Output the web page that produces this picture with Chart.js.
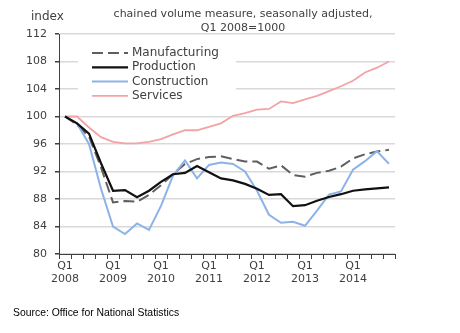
<!DOCTYPE html>
<html>
<head>
<meta charset="utf-8">
<script src="https://cdn.jsdelivr.net/npm/chart.js@4"></script>
<style>
  html, body { margin: 0; padding: 0; background: #fff; }
  #wrap { width: 460px; height: 333px; }
</style>
</head>
<body>
<div id="wrap"><canvas id="chart" width="460" height="333"></canvas></div>
<script>
const quarters = [
  '2008 Q1', '2008 Q2', '2008 Q3', '2008 Q4',
  '2009 Q1', '2009 Q2', '2009 Q3', '2009 Q4',
  '2010 Q1', '2010 Q2', '2010 Q3', '2010 Q4',
  '2011 Q1', '2011 Q2', '2011 Q3', '2011 Q4',
  '2012 Q1', '2012 Q2', '2012 Q3', '2012 Q4',
  '2013 Q1', '2013 Q2', '2013 Q3', '2013 Q4',
  '2014 Q1', '2014 Q2', '2014 Q3', '2014 Q4'
];

const manufacturing = [100, 98.8, 97.1, 92.6, 87.5, 87.7, 87.6, 88.6, 90.0, 91.6, 93.1, 93.8, 94.1, 94.2,
  93.8, 93.45, 93.45, 92.4, 92.9, 91.5, 91.25, 91.8, 92.1, 92.7, 93.9, 94.5, 94.9, 95.15];
const production = [100, 99.0, 97.5, 93.2, 89.2, 89.3, 88.25, 89.2, 90.5, 91.6, 91.8, 92.8, 91.9, 91.0,
  90.7, 90.2, 89.5, 88.6, 88.7, 86.95, 87.1, 87.75, 88.3, 88.7, 89.2, 89.4, 89.55, 89.7];
const construction = [100, 99.0, 96.0, 89.5, 84.0, 82.9, 84.45, 83.5, 87.0, 91.4, 93.6, 91.0, 92.95, 93.3,
  93.1, 92.0, 89.2, 85.7, 84.55, 84.7, 84.1, 86.3, 88.65, 89.1, 92.25, 93.5, 94.95, 93.1];
const services = [100, 100, 98.4, 97.0, 96.3, 96.1, 96.1, 96.3, 96.7, 97.4, 98.0, 98.0, 98.5, 99.0,
  100.1, 100.5, 101.0, 101.1, 102.2, 101.95, 102.5, 103.0, 103.7, 104.4, 105.2, 106.4, 107.1, 108.0];

const yTicks = [80, 84, 88, 92, 96, 100, 104, 108, 112];

const titleLines = ['chained volume measure, seasonally adjusted,', 'Q1 2008=1000'];
const yAxisLabel = 'index';
const sourceText = 'Source: Office for National Statistics';

const SANS = '"DejaVu Sans", sans-serif';
const TEXT = '#404040';

// legend + title + source, drawn straight on the canvas
const decor = {
  id: 'decor',
  beforeDatasetsDraw(chart) {
    const { ctx } = chart;
    ctx.save();
    ctx.fillStyle = '#fff';
    ctx.fillRect(78, 41, 158, 61);
    chart.data.datasets.forEach((ds, i) => {
      const y = 53 + i * 14.3;
      ctx.beginPath();
      ctx.setLineDash(ds.borderDash || []);
      ctx.strokeStyle = ds.borderColor;
      ctx.lineWidth = ds.borderWidth;
      ctx.moveTo(92, y);
      ctx.lineTo(128, y);
      ctx.stroke();
      ctx.setLineDash([]);
      ctx.fillStyle = TEXT;
      ctx.font = '12px ' + SANS;
      ctx.textBaseline = 'middle';
      ctx.textAlign = 'left';
      ctx.fillText(ds.label, 132, y);
    });
    ctx.restore();
  },
  afterDraw(chart) {
    const { ctx } = chart;
    ctx.save();
    ctx.fillStyle = TEXT;
    ctx.textBaseline = 'middle';
    ctx.font = '11px ' + SANS;
    ctx.textAlign = 'center';
    ctx.fillText(titleLines[0], 243, 14);
    ctx.fillText(titleLines[1], 243, 28);
    ctx.font = '12px ' + SANS;
    ctx.textAlign = 'left';
    ctx.fillText(yAxisLabel, 31, 17);
    ctx.fillStyle = '#000';
    ctx.font = '10.4px "Liberation Sans", Arial, sans-serif';
    ctx.fillText(sourceText, 13, 313);
    ctx.restore();
  }
};

new Chart(document.getElementById('chart'), {
  type: 'line',
  data: {
    labels: quarters,
    datasets: [
      {
        label: 'Manufacturing',
        data: manufacturing,
        borderColor: '#5f5f5f',
        borderWidth: 2,
        borderDash: [11, 5],
        order: 3
      },
      {
        label: 'Production',
        data: production,
        borderColor: '#111',
        borderWidth: 2.2,
        order: 0
      },
      {
        label: 'Construction',
        data: construction,
        borderColor: '#8db3e6',
        borderWidth: 2,
        order: 2
      },
      {
        label: 'Services',
        data: services,
        borderColor: '#f2a3a6',
        borderWidth: 1.8,
        order: 4
      }
    ]
  },
  options: {
    responsive: false,
    animation: false,
    layout: { padding: { top: 34, right: 65, left: 0, bottom: 0 } },
    elements: {
      point: { radius: 0 },
      line: { tension: 0, fill: false }
    },
    plugins: {
      legend: { display: false },
      title: { display: false },
      tooltip: { enabled: false }
    },
    scales: {
      x: {
        type: 'category',
        offset: true,
        grid: {
          offset: true,
          drawOnChartArea: false,
          tickLength: 5,
          tickColor: '#404040'
        },
        border: { color: '#404040', width: 1 },
        ticks: {
          autoSkip: false,
          maxRotation: 0,
          padding: 0,
          color: TEXT,
          font: { family: SANS, size: 11, lineHeight: 1.25 },
          callback: (value, index) => {
            const [year, q] = quarters[index].split(' ');
            return q === 'Q1' ? [q, year] : '';
          }
        },
        afterFit: (scale) => { scale.height = 79; }
      },
      y: {
        min: 80,
        max: 112,
        afterBuildTicks: (scale) => { scale.ticks = yTicks.map((value) => ({ value })); },
        grid: {
          color: '#d9d9d9',
          lineWidth: 1.5,
          tickLength: 4,
          tickColor: '#404040'
        },
        border: { color: '#404040', width: 1 },
        ticks: {
          padding: 8,
          color: TEXT,
          font: { family: SANS, size: 11 }
        },
        afterFit: (scale) => { scale.width = 59; }
      }
    }
  },
  plugins: [decor]
});
</script>
</body>
</html>
